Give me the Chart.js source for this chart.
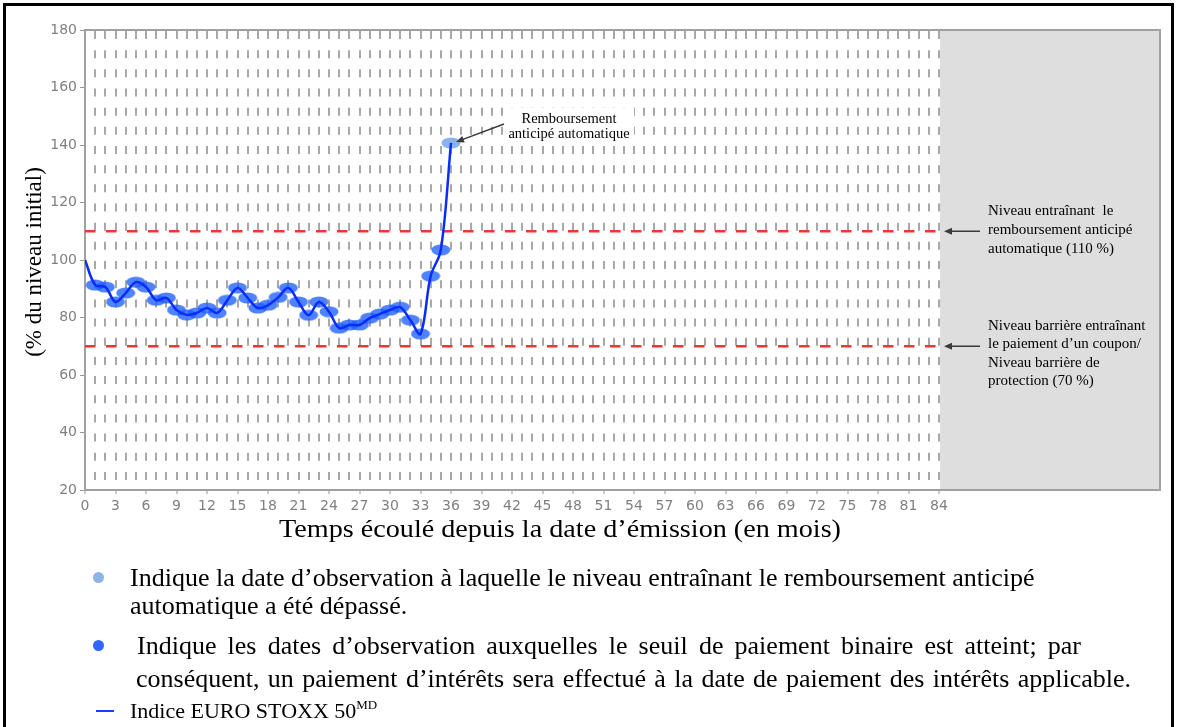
<!DOCTYPE html>
<html>
<head>
<meta charset="utf-8">
<script src="https://cdn.jsdelivr.net/npm/chart.js"></script>
<style>
    body { margin: 0; background: #fff; }
    #wrap { position: relative; width: 1177px; height: 727px; overflow: hidden; }
    #frame { position: absolute; left: 3px; top: 3px; width: 1165px; height: 760px; border: 3px solid #000; }
    #chart { position: absolute; left: 0; top: 0; }
    .leg { position: absolute; font-family: "Liberation Serif", serif; font-size: 26px; line-height: 28px; color: #000; white-space: nowrap; }
    .just { text-align: justify; text-align-last: justify; white-space: normal; }
    .leg sup { font-size: 13px; vertical-align: 9px; line-height: 0; }
    .dot { position: absolute; width: 11px; height: 11px; border-radius: 50%; }
</style>
</head>
<body>
<div id="wrap">
    <canvas id="chart" width="1177" height="545"></canvas>
    <div id="frame"></div>

    <div class="dot" style="left:93px;top:572px;background:#8eb4e3"></div>
    <div class="leg" style="left:130px;top:564px">Indique la date d’observation à laquelle le niveau entraînant le remboursement anticipé</div>
    <div class="leg" style="left:130px;top:592px">automatique a été dépassé.</div>

    <div class="dot" style="left:93px;top:640px;background:#2f66ff"></div>
    <div class="leg just" style="left:137px;top:632px;width:944px">Indique les dates d’observation auxquelles le seuil de paiement binaire est atteint; par</div>
    <div class="leg just" style="left:136px;top:665px;width:995px">conséquent, un paiement d’intérêts sera effectué à la date de paiement des intérêts applicable.</div>

    <div style="position:absolute;left:96px;top:710px;width:18px;height:2px;background:#1a3cff"></div>
    <div class="leg" style="left:130px;top:697px;font-size:22px">Indice EURO STOXX 50<sup>MD</sup></div>
</div>

<script>
// months since issue and index level (% of initial level)
const months = [0, 1, 2, 3, 4, 5, 6, 7, 8, 9, 10, 11, 12, 13, 14, 15, 16, 17, 18,
    19, 20, 21, 22, 23, 24, 25, 26, 27, 28, 29, 30, 31, 32, 33, 34, 35, 36];
const indexValues = [100, 91.3, 90.6, 85.4, 88.5, 92.3, 90.6, 86, 86.8, 82.6, 80.9, 81.6, 83.3,
    81.6, 86, 90.3, 86.8, 83.3, 84.3, 87, 90.3, 85.4, 80.8, 85.4, 82, 76.3, 77.4, 77.4,
    79.8, 81.2, 82.6, 83.6, 79.1, 74.3, 94.4, 103.5, 140.7];
const yTicks = [20, 40, 60, 80, 100, 120, 140, 160, 180];
const xTickStep = 3;
const lastMonth = 84;
const autocallLevel = 110;
const barrierLevel = 70;

const SERIF = '"Liberation Serif", "Times New Roman", serif';

// ellipse markers
function makeEllipse(color) {
    const c = document.createElement('canvas');
    c.width = 20;
    c.height = 12;
    const g = c.getContext('2d');
    g.fillStyle = color;
    g.beginPath();
    g.ellipse(10, 6, 9.5, 5.5, 0, 0, Math.PI * 2);
    g.fill();
    return c;
}
const blueMark = makeEllipse('rgba(30, 95, 255, 0.78)');
const autocallMark = makeEllipse('rgba(125, 170, 235, 0.9)');

const linePoints = months.map((m, i) => ({ x: m, y: indexValues[i] }));

function drawArrow(ctx, x1, y1, x2, y2) {
    const a = Math.atan2(y2 - y1, x2 - x1);
    ctx.save();
    ctx.strokeStyle = '#3a3a3a';
    ctx.fillStyle = '#3a3a3a';
    ctx.lineWidth = 1.5;
    ctx.beginPath();
    ctx.moveTo(x1, y1);
    ctx.lineTo(x2 - 6 * Math.cos(a), y2 - 6 * Math.sin(a));
    ctx.stroke();
    ctx.beginPath();
    ctx.moveTo(x2, y2);
    ctx.lineTo(x2 - 8 * Math.cos(a) + 3.5 * Math.sin(a), y2 - 8 * Math.sin(a) - 3.5 * Math.cos(a));
    ctx.lineTo(x2 - 8 * Math.cos(a) - 3.5 * Math.sin(a), y2 - 8 * Math.sin(a) + 3.5 * Math.cos(a));
    ctx.closePath();
    ctx.fill();
    ctx.restore();
}

// centred text stretched to a given width
function wideText(ctx, text, cx, cy, width) {
    const w = ctx.measureText(text).width;
    ctx.save();
    ctx.translate(cx, cy);
    ctx.scale(width / w, 1);
    ctx.fillText(text, 0, 0);
    ctx.restore();
}

const decorPlugin = {
    id: 'decor',
    beforeDraw(chart) {
        const { ctx, chartArea, scales } = chart;
        const xEnd = scales.x.getPixelForValue(lastMonth);
        // grey area after the final maturity
        ctx.save();
        ctx.fillStyle = '#dedede';
        ctx.fillRect(xEnd + 1, chartArea.top, 1160 - xEnd - 1, chartArea.bottom - chartArea.top);
        ctx.strokeStyle = '#a0a0a0';
        ctx.lineWidth = 2;
        ctx.strokeRect(chartArea.left, chartArea.top, 1160 - chartArea.left, chartArea.bottom - chartArea.top);
        ctx.restore();
    },
    afterDraw(chart) {
        const { ctx, scales } = chart;
        const xs = scales.x, ys = scales.y;
        ctx.save();
        ctx.fillStyle = '#000';

        // axis titles
        ctx.font = '25px ' + SERIF;
        ctx.textAlign = 'center';
        ctx.textBaseline = 'middle';
        wideText(ctx, 'Temps écoulé depuis la date d’émission (en mois)', 560, 530, 562);
        ctx.save();
        ctx.translate(35, 262);
        ctx.rotate(-Math.PI / 2);
        ctx.font = '23px ' + SERIF;
        ctx.fillText('(% du niveau initial)', 0, 0);
        ctx.restore();

        // autocall note
        ctx.fillStyle = '#fff';
        ctx.fillRect(506, 108, 128, 38);
        ctx.fillStyle = '#000';
        ctx.font = '14.5px ' + SERIF;
        ctx.fillText('Remboursement', 569, 119);
        ctx.fillText('anticipé automatique', 569, 134);
        const lastIdx = months.length - 1;
        drawArrow(ctx, 504, 124, xs.getPixelForValue(months[lastIdx]) + 5, ys.getPixelForValue(indexValues[lastIdx]) - 1);

        // level notes on the right
        ctx.textAlign = 'left';
        ctx.font = '15px ' + SERIF;
        const tx = 988;
        ['Niveau entraînant  le', 'remboursement anticipé', 'automatique (110 %)']
            .forEach((s, i) => ctx.fillText(s, tx, 211 + i * 19));
        ['Niveau barrière entraînant', 'le paiement d’un coupon/', 'Niveau barrière de', 'protection (70 %)']
            .forEach((s, i) => ctx.fillText(s, tx, 326 + i * 18.5));
        const xEnd = xs.getPixelForValue(lastMonth);
        drawArrow(ctx, 980, ys.getPixelForValue(autocallLevel), xEnd + 5, ys.getPixelForValue(autocallLevel));
        drawArrow(ctx, 980, ys.getPixelForValue(barrierLevel), xEnd + 5, ys.getPixelForValue(barrierLevel));
        ctx.restore();
    }
};

new Chart(document.getElementById('chart'), {
    type: 'line',
    data: {
        datasets: [
            {
                // index line, drawn on top of its markers
                data: linePoints,
                borderColor: '#0a2dff',
                borderWidth: 2.5,
                tension: 0.35,
                pointRadius: 0,
                order: 0
            },
            {
                data: linePoints,
                showLine: false,
                pointStyle: ctx => ctx.dataIndex === months.length - 1 ? autocallMark : blueMark,
                pointRadius: ctx => ctx.dataIndex === 0 ? 0 : 5,
                order: 1
            },
            {
                data: [{ x: 0, y: autocallLevel }, { x: lastMonth, y: autocallLevel }],
                borderColor: '#f03535',
                borderWidth: 2.5,
                borderDash: [10.5, 10.5],
                pointRadius: 0,
                order: 2
            },
            {
                data: [{ x: 0, y: barrierLevel }, { x: lastMonth, y: barrierLevel }],
                borderColor: '#f03535',
                borderWidth: 2.5,
                borderDash: [10.5, 10.5],
                pointRadius: 0,
                order: 2
            }
        ]
    },
    options: {
        responsive: false,
        animation: false,
        layout: { padding: { top: 30, right: 1177 - 939, left: 0, bottom: 0 } },
        plugins: { legend: { display: false }, tooltip: { enabled: false } },
        scales: {
            x: {
                type: 'linear',
                min: 0,
                max: lastMonth,
                afterFit: s => { s.height = 55; },
                ticks: {
                    stepSize: 1,
                    autoSkip: false,
                    maxRotation: 0,
                    padding: 4,
                    color: '#808080',
                    font: { family: 'DejaVu Sans', size: 14 },
                    callback: v => (v % xTickStep === 0 ? String(v) : '')
                },
                grid: {
                    color: ctx => (ctx.tick && ctx.tick.value > 0 ? '#a8a8a8' : 'rgba(0,0,0,0)'),
                    lineWidth: 2,
                    tickLength: 4,
                    tickWidth: 1,
                    tickColor: ctx => (ctx.tick && ctx.tick.value % xTickStep === 0 ? '#999' : 'rgba(0,0,0,0)')
                },
                border: { color: '#a0a0a0', width: 2, dash: [8, 11.17], dashOffset: -1 }
            },
            y: {
                min: yTicks[0],
                max: yTicks[yTicks.length - 1],
                afterFit: s => { s.width = 85; },
                afterBuildTicks: s => { s.ticks = yTicks.map(v => ({ value: v })); },
                ticks: {
                    color: '#808080',
                    padding: 3,
                    font: { family: 'DejaVu Sans', size: 14 }
                },
                grid: {
                    drawOnChartArea: false,
                    tickLength: 5,
                    tickColor: '#999'
                },
                border: { color: '#a0a0a0', width: 2 }
            }
        }
    },
    plugins: [decorPlugin]
});
</script>
</body>
</html>
